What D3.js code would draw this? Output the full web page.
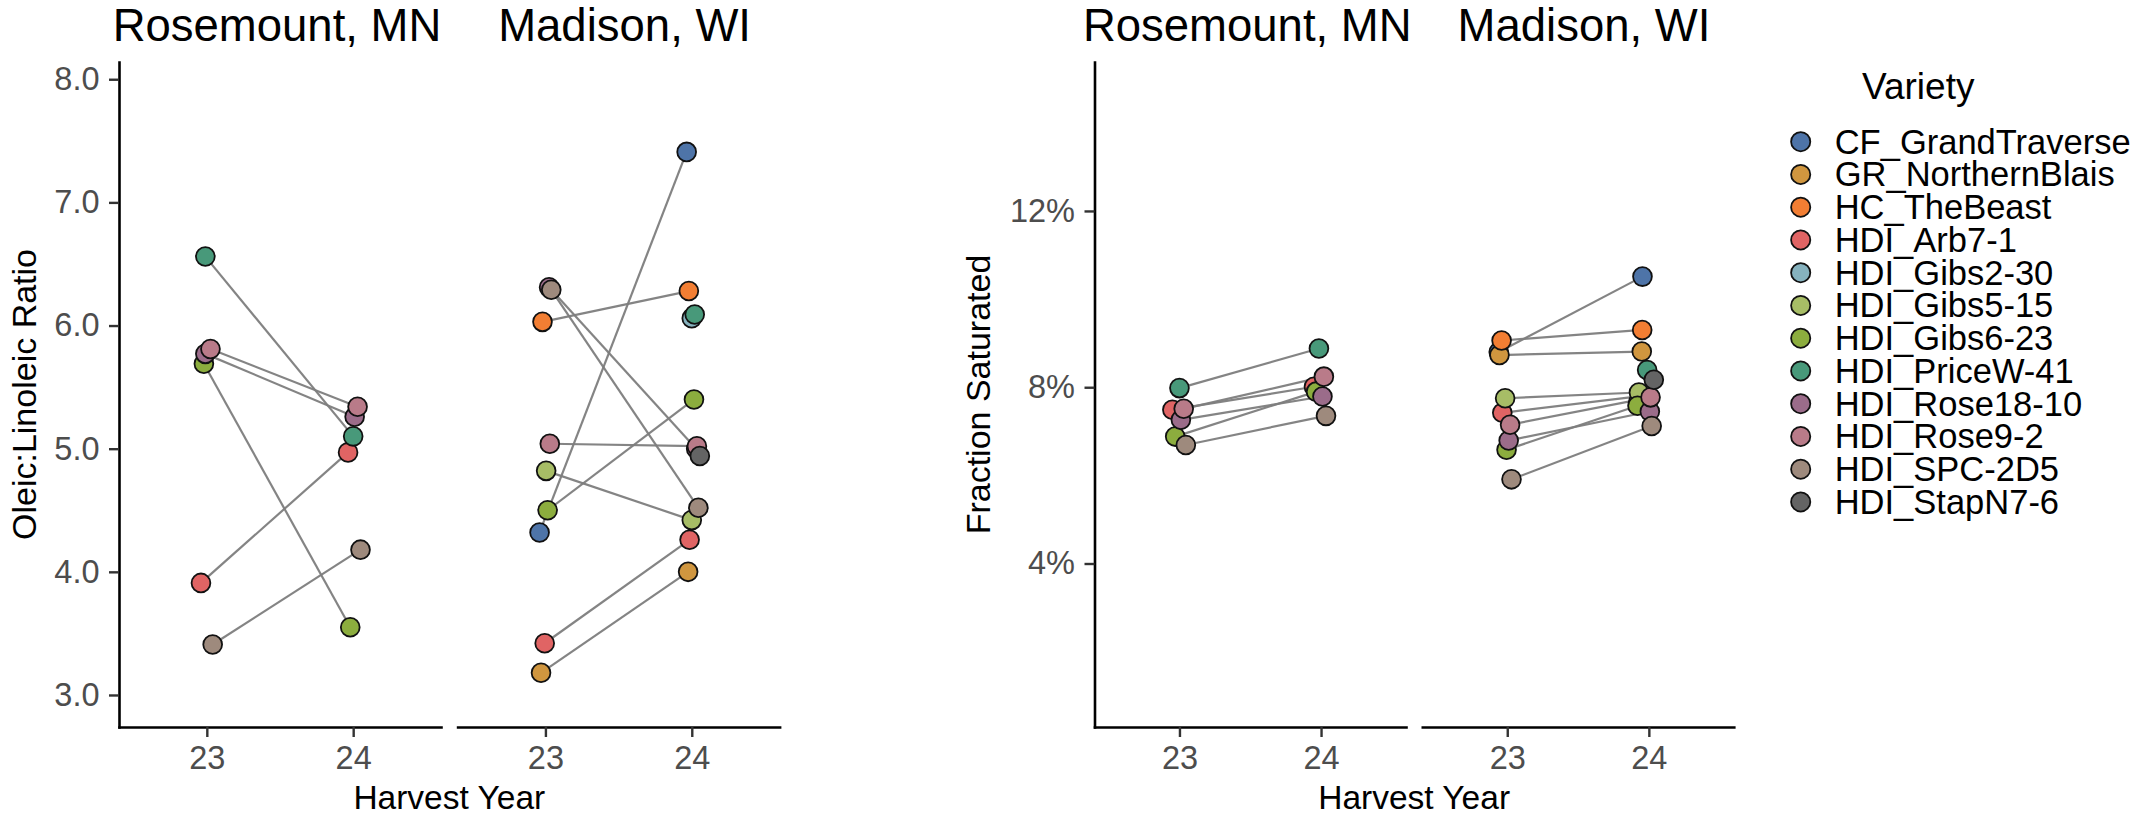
<!DOCTYPE html>
<html><head><meta charset="utf-8">
<script src="https://cdn.jsdelivr.net/npm/d3@7"></script>
<style>
html,body{margin:0;padding:0;background:#fff;}
svg{display:block;font-family:"Liberation Sans",Arial,Helvetica,sans-serif;}
</style></head><body>
<svg id="chart" width="2139" height="817"></svg>
<script>
// ---------- data ----------
const varieties = ["CF_GrandTraverse","GR_NorthernBlais","HC_TheBeast","HDI_Arb7-1","HDI_Gibs2-30","HDI_Gibs5-15","HDI_Gibs6-23","HDI_PriceW-41","HDI_Rose18-10","HDI_Rose9-2","HDI_SPC-2D5","HDI_StapN7-6"];
const palette = ["#4E74A8","#D0963F","#F27E33","#E06464","#86B2BE","#A7BD66","#8CAD3E","#48997A","#9B6C8A","#B97B89","#9E8A7D","#646464"];
const locations = ["Rosemount, MN","Madison, WI"];
const years = ["23","24"];

// Oleic:Linoleic ratio
const oleicRosemount23 = [null,null,null,3.91,null,null,5.69,6.56,5.77,5.81,3.41,null];
const oleicRosemount24 = [null,null,null,4.97,null,null,3.55,5.10,5.26,5.34,4.18,null];
const oleicMadison23   = [4.32,3.18,6.03,3.42,null,4.82,4.50,null,6.31,5.04,6.29,null];
const oleicMadison24   = [7.41,4.00,6.28,4.26,6.06,4.42,5.40,6.09,5.00,5.02,4.52,4.94];
// Fraction saturated (%)
const satRosemount23 = [null,null,null,7.49,null,null,6.88,7.98,7.26,7.51,6.69,null];
const satRosemount24 = [null,null,null,8.01,null,null,7.90,8.88,7.79,8.24,7.35,null];
const satMadison23   = [8.80,8.73,9.06,7.42,null,7.75,6.58,null,6.79,7.15,5.91,null];
const satMadison24   = [10.51,8.81,9.30,7.80,7.66,7.88,7.58,8.39,7.45,7.77,7.12,8.17];

// horizontal jitter (in year units)
const jitOleicRos23 = [0,0,0,-0.04,0,0,-0.02,-0.01,-0.01,0.025,0.04,0];
const jitOleicRos24 = [0,0,0,-0.035,0,0,-0.02,0,0.01,0.03,0.05,0];
const jitOleicMad23 = [-0.04,-0.03,-0.02,-0.005,0,0.005,0.015,0,0.025,0.03,0.04,0];
const jitOleicMad24 = [-0.035,-0.025,-0.02,-0.015,0,0,0.015,0.02,0.03,0.035,0.045,0.055];
const jitSatRos23 = [0,0,0,-0.05,0,0,-0.03,0,0.01,0.03,0.045,0];
const jitSatRos24 = [0,0,0,-0.05,0,0,-0.035,-0.015,0.01,0.02,0.035,0];
const jitSatMad23 = [-0.06,-0.055,-0.04,-0.035,0,-0.015,-0.005,0,0.01,0.02,0.03,0];
const jitSatMad24 = [-0.045,-0.05,-0.047,-0.06,-0.075,-0.07,-0.08,-0.012,0.007,0.012,0.02,0.035];

const oleicTicks = [3,4,5,6,7,8];
const oleicTickLabels = ["3.0","4.0","5.0","6.0","7.0","8.0"];
const satTicks = [4,8,12];
const satTickLabels = ["4%","8%","12%"];

// ---------- layout ----------
const svg = d3.select("#chart");
const TOP = 62, BOTTOM = 727;
const panels = [
  {x0:119, facetW:322, gap:16.6, domain:[2.74,8.14], ticks:oleicTicks, labels:oleicTickLabels,
   ytitle:"Oleic:Linoleic Ratio", ytitleX:36,
   facets:[[oleicRosemount23,oleicRosemount24,jitOleicRos23,jitOleicRos24],[oleicMadison23,oleicMadison24,jitOleicMad23,jitOleicMad24]]},
  {x0:1094.5, facetW:311.5, gap:16.3, domain:[0.29,15.38], ticks:satTicks, labels:satTickLabels,
   ytitle:"Fraction Saturated", ytitleX:990,
   facets:[[satRosemount23,satRosemount24,jitSatRos23,jitSatRos24],[satMadison23,satMadison24,jitSatMad23,jitSatMad24]]}
];

function styleAxis(g){
  g.select(".domain").attr("stroke","#000").attr("stroke-width",2.6).attr("stroke-linecap","square");
  g.selectAll(".tick line").attr("stroke","#333").attr("stroke-width",2.4);
  g.selectAll(".tick text").attr("fill","#4D4D4D").style("font-size","32.5px")
   .style("font-family",'"Liberation Sans",Arial,Helvetica,sans-serif');
}

panels.forEach(p => {
  const y = d3.scaleLinear().domain(p.domain).range([BOTTOM, TOP]);
  const pg = svg.append("g");

  p.facets.forEach((f, fi) => {
    const fx0 = p.x0 + fi*(p.facetW + p.gap);
    const xs = d3.scalePoint().domain(years).range([fx0, fx0 + p.facetW]).padding(0.6);
    const step = xs.step();
    const [v23, v24, j23, j24] = f;

    const xg = pg.append("g").attr("transform",`translate(0,${BOTTOM})`)
      .call(d3.axisBottom(xs).tickSize(10).tickSizeOuter(0).tickPadding(9));
    styleAxis(xg);

    pg.append("text").attr("x", fx0 + p.facetW/2 + (fi === 1 ? 6 : -3)).attr("y", 41)
      .attr("text-anchor","middle").style("font-size","45.5px").attr("fill","#000")
      .text(locations[fi]);

    const segs = varieties.map((v,i)=>({i, a:v23[i], b:v24[i]})).filter(d=>d.a!=null && d.b!=null);
    pg.append("g").selectAll("line").data(segs).join("line")
      .attr("x1", d => xs("23") + j23[d.i]*step).attr("y1", d => y(d.a))
      .attr("x2", d => xs("24") + j24[d.i]*step).attr("y2", d => y(d.b))
      .attr("stroke","#7d7d7d").attr("stroke-width",2.2).attr("stroke-opacity",0.95);

    const pts = [];
    varieties.forEach((v,i) => {
      if (v23[i] != null) pts.push({i, yr:"23", val:v23[i], j:j23[i]});
      if (v24[i] != null) pts.push({i, yr:"24", val:v24[i], j:j24[i]});
    });
    pg.append("g").selectAll("circle").data(pts).join("circle")
      .attr("cx", d => xs(d.yr) + d.j*step).attr("cy", d => y(d.val)).attr("r", 9.4)
      .attr("fill", d => palette[d.i]).attr("stroke","#111").attr("stroke-width",1.8);
  });

  const yg = pg.append("g").attr("transform",`translate(${p.x0},0)`)
    .call(d3.axisLeft(y).tickValues(p.ticks).tickFormat((d,i)=>p.labels[i]).tickSize(10).tickSizeOuter(0).tickPadding(9.5));
  styleAxis(yg);

  const totalW = 2*p.facetW + p.gap;
  pg.append("text").attr("x", p.x0 + totalW/2).attr("y", 809).attr("text-anchor","middle")
    .style("font-size","33.5px").attr("fill","#000").text("Harvest Year");
  pg.append("text").attr("transform",`translate(${p.ytitleX},${(TOP+BOTTOM)/2}) rotate(-90)`)
    .attr("text-anchor","middle").style("font-size","34px").attr("fill","#000").text(p.ytitle);
});

// ---------- legend ----------
const lg = svg.append("g");
lg.append("text").attr("x",1862).attr("y",99).style("font-size","37px").attr("fill","#000").text("Variety");
const items = lg.selectAll("g.item").data(varieties).join("g").attr("class","item")
  .attr("transform",(d,i)=>`translate(1800.7,${141.7 + i*32.75})`);
items.append("circle").attr("r",9.6).attr("fill",(d,i)=>palette[i]).attr("stroke","#111").attr("stroke-width",1.8);
items.append("text").attr("x",34).attr("y",11.8).style("font-size","34.5px").attr("fill","#000").text(d=>d);
</script></body></html>
